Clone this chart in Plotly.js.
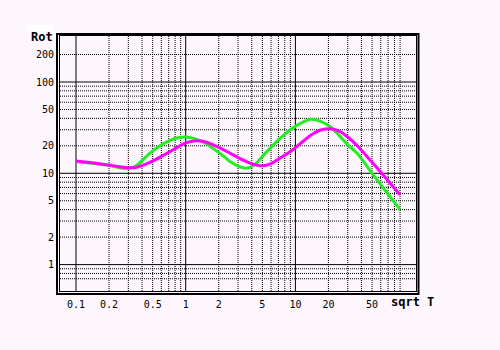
<!DOCTYPE html>
<html>
<head>
<meta charset="utf-8">
<script src="https://cdn.plot.ly/plotly-3.0.1.min.js"></script>
<style>html,body{margin:0;padding:0;background:#fdf6fd;}</style>
</head>
<body>
<div id="chart" style="width:500px;height:350px;"></div>
<script>
// Data (x = sqrt T, y = Rot)
const sqrtT = [0.1, 0.15, 0.2, 0.25, 0.3, 0.35, 0.47, 0.6, 0.72, 0.85, 1.0, 1.2, 1.5, 1.8, 2.2, 2.6, 3.1, 3.6, 4.2, 5.0, 6.0, 7.2, 9.0, 11, 14, 17, 21, 25, 30, 37, 50, 70, 90];
const rotGreen = [13.5, 12.8, 12.2, 11.5, 11.3, 12.0, 16.5, 20.5, 23.0, 24.5, 25.0, 24.0, 21.5, 18.5, 15.5, 13.2, 11.8, 11.4, 12.3, 15.3, 19.3, 24.0, 30.0, 35.0, 39.0, 37.0, 32.0, 26.0, 20.5, 16.3, 10.0, 5.9, 4.0];
const rotMagenta = [13.6, 12.9, 12.3, 11.8, 11.5, 11.6, 13.2, 15.3, 17.3, 19.5, 21.5, 22.6, 22.2, 20.4, 18.2, 16.3, 14.6, 13.4, 12.5, 12.1, 12.8, 14.6, 17.3, 21.0, 26.5, 29.8, 30.8, 29.0, 25.0, 19.8, 13.2, 8.3, 5.8];

const xTickVals = [0.1, 0.2, 0.5, 1, 2, 5, 10, 20, 50];
const xTickText = ["0.1", "0.2", "0.5", "1", "2", "5", "10", "20", "50"];
const yTickVals = [1, 2, 5, 10, 20, 50, 100, 200];
const yTickText = ["1", "2", "5", "10", "20", "50", "100", "200"];

const xMajorGrid = [0.1, 1, 10];
const xMinorGrid = [0.2,0.3,0.4,0.5,0.6,0.7,0.8,0.9, 2,3,4,5,6,7,8,9, 20,30,40,50,60,70,80,90];
const yMajorGrid = [1, 10, 100];
const yMinorGrid = [0.7,0.8,0.9, 2,3,4,5,6,7,8,9, 20,30,40,50,60,70,80,90, 200];

const shapes = [];
xMinorGrid.forEach(v => shapes.push({type:'line', xref:'x', yref:'paper', x0:v, x1:v, y0:0, y1:1, layer:'below', line:{color:'#000', width:1, dash:'1px,1px'}}));
yMinorGrid.forEach(v => shapes.push({type:'line', xref:'paper', yref:'y', x0:0, x1:1, y0:v, y1:v, layer:'below', line:{color:'#000', width:1, dash:'1px,1px'}}));
xMajorGrid.forEach(v => shapes.push({type:'line', xref:'x', yref:'paper', x0:v, x1:v, y0:0, y1:1, layer:'below', line:{color:'#000', width:1}}));
yMajorGrid.forEach(v => shapes.push({type:'line', xref:'paper', yref:'y', x0:0, x1:1, y0:v, y1:v, layer:'below', line:{color:'#000', width:1}}));
// outer frame
shapes.push({type:'rect', xref:'paper', yref:'paper', x0:-3/356, x1:1+2.5/356, y0:-3/255, y1:1+2/255, line:{color:'#000', width:2}, fillcolor:'rgba(0,0,0,0)'});
// white strip above the y title
shapes.push({type:'rect', xref:'paper', yref:'paper', x0:-32/356, x1:-7/356, y0:1+(36-31)/255, y1:1+(36-25)/255, line:{width:0}, fillcolor:'#ffffff'});

const traces = [
  {x: sqrtT, y: rotGreen, mode:'lines', line:{color:'#22ee22', width:3, shape:'spline'}, hoverinfo:'skip'},
  {x: sqrtT, y: rotMagenta, mode:'lines', line:{color:'#ff00ff', width:3, shape:'spline'}, hoverinfo:'skip'}
];

const font = {family:'DejaVu Sans Mono, monospace', size:10, color:'#000'};
const layout = {
  width:500, height:350,
  margin:{l:60, r:84, t:36, b:59},
  paper_bgcolor:'#fdf6fd', plot_bgcolor:'#fdf6fd',
  showlegend:false,
  font: font,
  xaxis:{type:'log', range:[-1.1459, 2.0994], tickvals:xTickVals, ticktext:xTickText, showgrid:false, zeroline:false,
         showline:true, mirror:true, linecolor:'#000', linewidth:1, ticks:'', tickfont:font, ticklabelstandoff:4},
  yaxis:{type:'log', range:[-0.2892, 2.5038], tickvals:yTickVals, ticktext:yTickText, showgrid:false, zeroline:false,
         showline:true, mirror:true, linecolor:'#000', linewidth:1, ticks:'', tickfont:font, ticklabelstandoff:3},
  shapes: shapes,
  annotations:[
    {text:'<b>Rot</b>', xref:'paper', yref:'paper', x:-5/356, y:1, xanchor:'right', yanchor:'middle', yshift:-1, showarrow:false,
     font:{family:'DejaVu Sans Mono, monospace', size:12, color:'#000'}},
    {text:'<b>sqrt T</b>', xref:'paper', yref:'paper', x:(412-60)/356, y:0, xanchor:'center', yanchor:'middle', yshift:-10.5, showarrow:false,
     font:{family:'DejaVu Sans Mono, monospace', size:12, color:'#000'}}
  ]
};
Plotly.newPlot('chart', traces, layout, {displayModeBar:false, staticPlot:true});
</script>
</body>
</html>
